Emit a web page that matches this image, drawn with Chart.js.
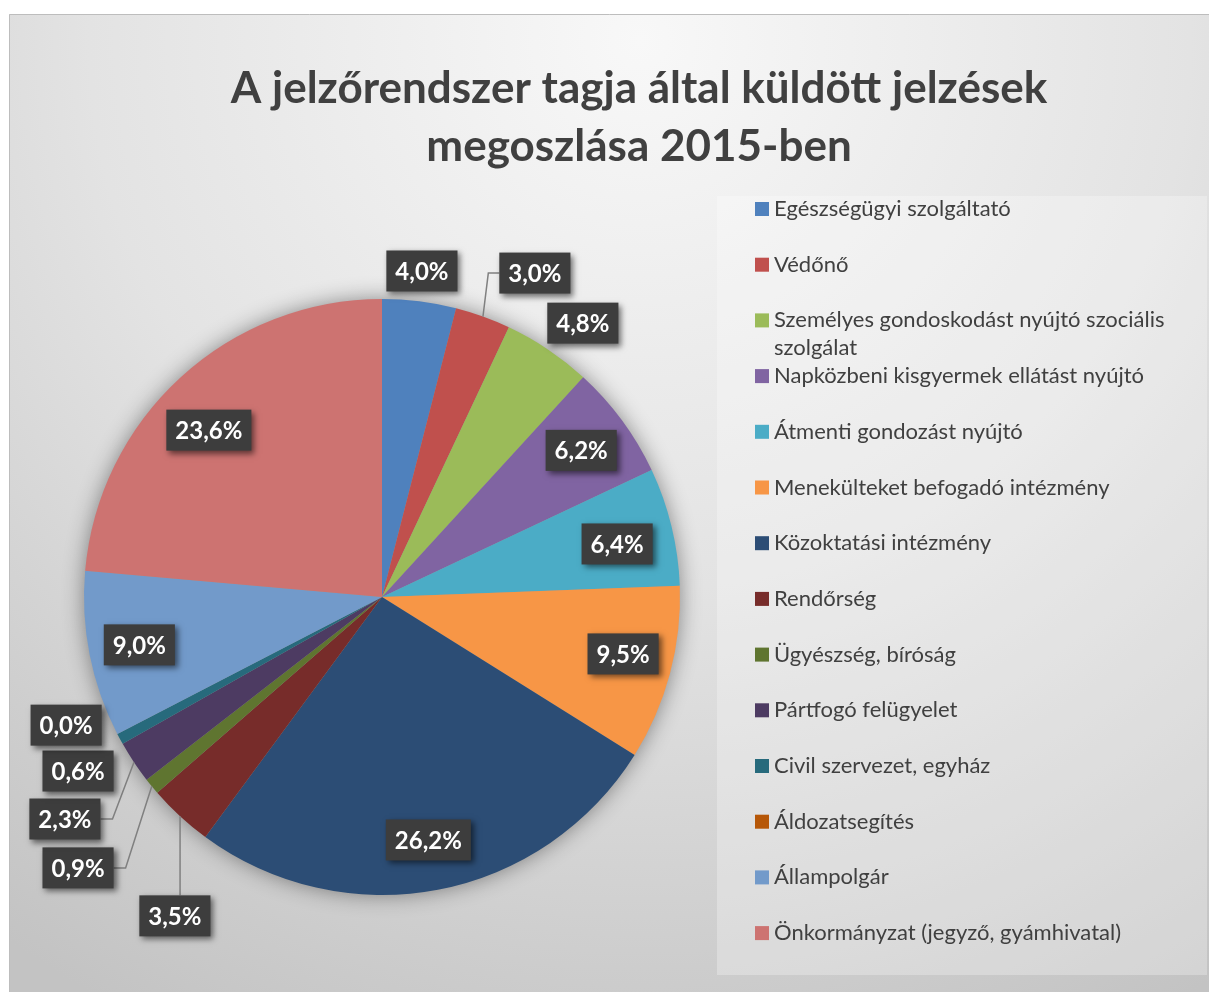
<!DOCTYPE html>
<html>
<head>
<meta charset="utf-8">
<script src="https://cdn.jsdelivr.net/npm/chart.js@4.4.1/dist/chart.umd.min.js"></script>
<style>
html, body { margin: 0; padding: 0; background: #fff; }
#wrap { position: relative; width: 1209px; height: 992px; }
</style>
</head>
<body>
<div id="wrap"><canvas id="myChart"></canvas></div>
<script>
const titleLines = ['A jelzőrendszer tagja által küldött jelzések', 'megoszlása 2015-ben'];

const labels = [
    'Egészségügyi szolgáltató',
    'Védőnő',
    'Személyes gondoskodást nyújtó szociális szolgálat',
    'Napközbeni kisgyermek ellátást nyújtó',
    'Átmenti gondozást nyújtó',
    'Menekülteket befogadó intézmény',
    'Közoktatási intézmény',
    'Rendőrség',
    'Ügyészség, bíróság',
    'Pártfogó felügyelet',
    'Civil szervezet, egyház',
    'Áldozatsegítés',
    'Állampolgár',
    'Önkormányzat (jegyző, gyámhivatal)'
];

const values = [4.0, 3.0, 4.8, 6.2, 6.4, 9.5, 26.2, 3.5, 0.9, 2.3, 0.6, 0.0, 9.0, 23.6];

const colors = [
    '#4F81BD', '#C0504D', '#9BBB59', '#8064A2', '#4BACC6', '#F79646', '#2C4D75',
    '#772C2A', '#5F7530', '#4D3B62', '#276A7C', '#B65708', '#729ACA', '#CD7371'
];

// where each data label goes: default is inside on the mid angle,
// 'at' is an offset from the pie centre in radii
const labelPlacement = [
    { at: [0.134, -1.094] },
    { at: [0.513, -1.087], leader: 'h' },
    { at: [0.674, -0.919] },
    {},
    { at: [0.789, -0.178] },
    { at: [0.809, 0.191] },
    {},
    { at: [-0.695, 1.070], leader: 'v' },
    { at: [-1.020, 0.909], leader: 'h' },
    { at: [-1.064, 0.745], leader: 'h' },
    { at: [-1.020, 0.584] },
    { at: [-1.060, 0.430] },
    {},
    { at: [-0.581, -0.560] }
];

const textColor = '#404040';

const backgroundPlugin = {
    id: 'background',
    beforeDraw(chart) {
        const ctx = chart.ctx;
        const w = chart.width, h = chart.height;
        ctx.save();
        ctx.fillStyle = '#ffffff';
        ctx.fillRect(0, 0, w, h);
        const g = ctx.createRadialGradient(640, 40, 0, 640, 40, 1100);
        g.addColorStop(0, '#f8f8f8');
        g.addColorStop(0.5, '#e3e3e3');
        g.addColorStop(1, '#c3c3c3');
        ctx.fillStyle = g;
        ctx.fillRect(9, 14, w - 9, h - 14);
        ctx.strokeStyle = '#bdbdbd';
        ctx.lineWidth = 1;
        ctx.beginPath();
        ctx.moveTo(9.5, h);
        ctx.lineTo(9.5, 14.5);
        ctx.lineTo(w, 14.5);
        ctx.stroke();
        // legend panel
        ctx.fillStyle = 'rgba(255,255,255,0.28)';
        ctx.fillRect(717, 196, 490, 779);
        // title
        ctx.fillStyle = textColor;
        ctx.font = 'bold 44px Lato';
        ctx.textAlign = 'center';
        ctx.textBaseline = 'alphabetic';
        ctx.fillText(titleLines[0], 639, 103);
        ctx.fillText(titleLines[1], 639, 161);
        ctx.restore();
    },
    beforeDatasetsDraw(chart) {
        const arc = chart.getDatasetMeta(0).data[0];
        if (!arc) return;
        const ctx = chart.ctx;
        ctx.save();
        ctx.shadowColor = 'rgba(0,0,0,0.45)';
        ctx.shadowBlur = 22;
        ctx.fillStyle = '#999';
        ctx.beginPath();
        ctx.arc(arc.x, arc.y, arc.outerRadius - 1, 0, Math.PI * 2);
        ctx.fill();
        ctx.restore();
    }
};

const legendPlugin = {
    id: 'sideLegend',
    afterDraw(chart) {
        const ctx = chart.ctx;
        const x0 = 755, y0 = 209, step = 55.7, maxW = 410;
        ctx.save();
        ctx.font = '22px Lato';
        ctx.textBaseline = 'middle';
        ctx.textAlign = 'left';
        labels.forEach((lab, i) => {
            const y = y0 + i * step;
            ctx.fillStyle = colors[i];
            ctx.fillRect(x0, y - 7, 14, 14);
            ctx.fillStyle = textColor;
            // simple word wrap
            const words = lab.split(' ');
            let line = '', ly = y;
            words.forEach(wd => {
                const test = line ? line + ' ' + wd : wd;
                if (ctx.measureText(test).width > maxW && line) {
                    ctx.fillText(line, x0 + 19, ly);
                    line = wd;
                    ly += 28;
                } else {
                    line = test;
                }
            });
            ctx.fillText(line, x0 + 19, ly);
        });
        ctx.restore();
    }
};

const dataLabelPlugin = {
    id: 'boxLabels',
    afterDatasetsDraw(chart) {
        const ctx = chart.ctx;
        const arcs = chart.getDatasetMeta(0).data;
        ctx.save();
        ctx.font = 'bold 24px Lato';
        const boxes = arcs.map((a, i) => {
            const mid = (a.startAngle + a.endAngle) / 2;
            const R = a.outerRadius;
            const txt = values[i].toFixed(1).replace('.', ',') + '%';
            const w = ctx.measureText(txt).width + 18;
            const h = 41;
            const p = labelPlacement[i];
            let lx, ly;
            if (p.at) {
                lx = a.x + p.at[0] * R;
                ly = a.y + p.at[1] * R;
            } else {
                lx = a.x + Math.cos(mid) * R * 0.83;
                ly = a.y + Math.sin(mid) * R * 0.83;
            }
            return { a, mid, R, txt, w, h, lx, ly, leader: p.leader };
        });
        // leader lines
        ctx.strokeStyle = '#808080';
        ctx.lineWidth = 1.5;
        boxes.forEach(b => {
            if (!b.leader) return;
            const ax = b.a.x + Math.cos(b.mid) * b.R;
            const ay = b.a.y + Math.sin(b.mid) * b.R;
            ctx.beginPath();
            ctx.moveTo(ax, ay);
            if (b.leader === 'v') {
                ctx.lineTo(ax, b.ly - b.h / 2);
            } else {
                const right = b.lx > ax;
                const edge = right ? b.lx - b.w / 2 : b.lx + b.w / 2;
                const elbow = right ? edge - 11 : edge + 12;
                ctx.lineTo(elbow, b.ly);
                ctx.lineTo(edge, b.ly);
            }
            ctx.stroke();
        });
        // boxes
        boxes.forEach(b => {
            ctx.save();
            ctx.shadowColor = 'rgba(0,0,0,0.55)';
            ctx.shadowBlur = 6;
            ctx.shadowOffsetX = 3;
            ctx.shadowOffsetY = 3;
            ctx.fillStyle = '#3d3d3d';
            ctx.fillRect(b.lx - b.w / 2, b.ly - b.h / 2, b.w, b.h);
            ctx.restore();
            ctx.fillStyle = '#ffffff';
            ctx.textAlign = 'center';
            ctx.textBaseline = 'middle';
            ctx.fillText(b.txt, b.lx, b.ly + 1);
        });
        ctx.restore();
    }
};

const ctx = document.getElementById('myChart');
const myChart = new Chart(ctx, {
    type: 'pie',
    data: {
        labels: labels,
        datasets: [{
            data: values,
            backgroundColor: colors,
            borderWidth: 0
        }]
    },
    options: {
        responsive: true,
        maintainAspectRatio: false,
        animation: false,
        layout: {
            padding: { left: 84, top: 299, right: 529, bottom: 97 }
        },
        plugins: {
            legend: { display: false },
            title: { display: false },
            tooltip: { enabled: false }
        }
    },
    plugins: [backgroundPlugin, legendPlugin, dataLabelPlugin]
});
</script>
</body>
</html>
